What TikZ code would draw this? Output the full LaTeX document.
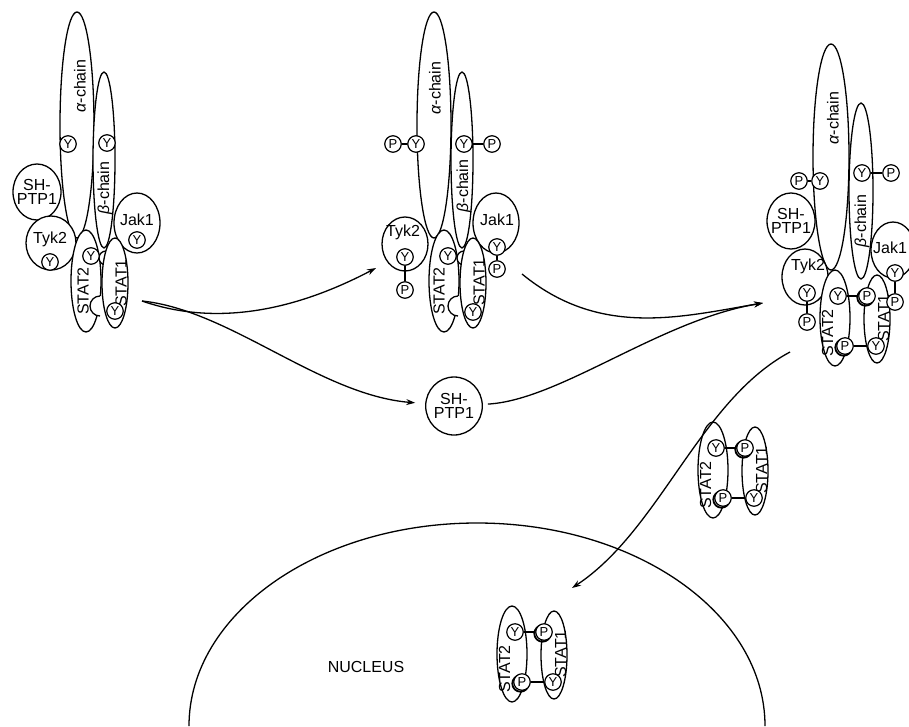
\documentclass[tikz,border=0pt]{standalone}
\usepackage{fontspec}
\setmainfont{Liberation Sans}
\usetikzlibrary{shapes.geometric,arrows.meta}

\begin{document}
\begin{tikzpicture}[x=1pt,y=-1pt,line width=1.3pt,
  blob/.style 2 args={ellipse,draw,fill=white,inner sep=0pt,minimum width=#1pt,minimum height=#2pt},
  lbl/.style={font=\fontsize{16}{14.5}\selectfont,align=center,inner sep=0pt},
  res/.style={circle,draw,fill=white,inner sep=0pt,minimum size=16.5pt,line width=1.2pt,font=\fontsize{13}{13}\selectfont},
  >={Stealth[length=9pt,width=6pt]}]
  \useasboundingbox (0,0) rectangle (909,726);

 % Rezeptor, Ruhezustand
 \node[blob={34}{226}] (ac1) at (77,125) {};
 \node[blob={22}{176}] (bc1) at (104,160) {};
 \node[blob={48}{56}] (sh1) at (37,192) {};
 \node[blob={50}{54}] (tyk1) at (51,243) {};
 \node[blob={46}{60}] (jak1) at (137,223) {};
 \node[blob={30}{102}] (st2a) at (86,281) {};
 \draw[fill=white] (106,258) circle (7);
 \fill[white] (100,306) circle (10);
 \draw (100,296) arc[start angle=270, end angle=90, radius=10];
 \node[blob={26}{90}] (st1a) at (115,283) {};
 \node[lbl,rotate=90] (acl1) at (80,86) {{\itshape α}-chain};
 \node[lbl,rotate=90] (bcl1) at (105,188) {{\itshape β}-chain};
 \node[lbl] (shl1) at (37,192) {SH-\\PTP1};
 \node[lbl] (tykl1) at (50,239) {Tyk2};
 \node[lbl] (jakl1) at (137,220) {Jak1};
 \node[lbl,rotate=90] (st2l1) at (83,291) {STAT2};
 \node[lbl,rotate=90] (st1l1) at (121,283) {STAT1};
 \node[res] (ya1) at (68,144) {Y};
 \node[res] (yb1) at (107,143) {Y};
 \node[res] (yt1) at (50,262) {Y};
 \node[res] (yj1) at (137,240) {Y};
 \node[res] (ys2a) at (91,256) {Y};
 \node[res] (ys1a) at (115,311) {Y};

 % Rezeptor, phosphoryliert
 \node[blob={34}{226}] (ac2) at (434,125) {};
 \node[blob={22}{176}] (bc2) at (462,160) {};
 \node[blob={46}{54}] (tyk2) at (405,244) {};
 \node[blob={46}{60}] (jak2) at (496,223) {};
 \node[blob={30}{102}] (st2b) at (444,281) {};
 \draw[fill=white] (464,258) circle (7);
 \fill[white] (458,306) circle (10);
 \draw (458,296) arc[start angle=270, end angle=90, radius=10];
 \node[blob={26}{90}] (st1b) at (473,283) {};
 \node[lbl,rotate=90] (acl2) at (435,88) {{\itshape α}-chain};
 \node[lbl,rotate=90] (bcl2) at (464,186) {{\itshape β}-chain};
 \node[lbl] (tykl2) at (403,232) {Tyk2};
 \node[lbl] (jakl2) at (497,220) {Jak1};
 \node[lbl,rotate=90] (st2l2) at (439,291) {STAT2};
 \node[lbl,rotate=90] (st1l2) at (479,282) {STAT1};
 \node[res] (ya2) at (416,144) {Y};
 \node[res] (pa2) at (393,144) {P};
 \node[res] (yb2) at (464,144) {Y};
 \node[res] (pb2) at (492,144) {P};
 \node[res] (yt2) at (405,257) {Y};
 \node[res] (pt2) at (405,290) {P};
 \node[res] (yj2) at (497,247) {Y};
 \node[res] (pj2) at (497,269) {P};
 \node[res] (ys2b) at (448,256) {Y};
 \node[res] (ys1b) at (473,312) {Y};
 \draw (pa2) -- (ya2);
 \draw (yb2) -- (pb2);
 \draw (yt2) -- (pt2);
 \draw (yj2) -- (pj2);

 % Rezeptor mit STAT-Dimer
 \node[blob={36}{226}] (ac3) at (831,157) {};
 \node[blob={24}{176}] (bc3) at (861,191) {};
 \node[blob={48}{56}] (sh3) at (791,221) {};
 \node[blob={46}{56}] (tyk3) at (805,277) {};
 \node[blob={44}{56}] (jak3) at (893,250) {};
 \node[lbl,rotate=90] (acl3) at (833,118) {{\itshape α}-chain};
 \node[lbl,rotate=90] (bcl3) at (862,221) {{\itshape β}-chain};
 \node[lbl] (shl3) at (791,221) {SH-\\PTP1};
 \node[lbl] (tykl3) at (808,266) {Tyk2};
 \node[lbl] (jakl3) at (890,248) {Jak1};

 % STAT-Dimere
 \foreach \n/\dx/\dy in {c/835/318, f/713/470, n/512/654} {
   \begin{scope}[shift={(\dx,\dy)}]
     \node[blob={30}{96}] (s2\n) at (0,0) {};
     \node[blob={26}{88}] (s1\n) at (42,1) {};
     \node[lbl,rotate=90] (l2\n) at (-7.5,15) {STAT2};
     \node[lbl,rotate=90] (l1\n) at (48.5,0) {STAT1};
     \draw[line width=1.8pt] (8.5,29.5) circle (8.2);
     \draw[line width=1.8pt] (30.5,-20.5) circle (8.2);
     \node[res] (y2\n) at (3,-22) {Y};
     \node[res] (p2\n) at (10,28) {P};
     \node[res] (p1\n) at (32,-22) {P};
     \node[res] (y1\n) at (41,28) {Y};
     \draw (y2\n) -- (p1\n);
     \draw (p2\n) -- (y1\n);
   \end{scope}
 }

 \node[res] (ya3) at (820,181) {Y};
 \node[res] (pa3) at (799,181) {P};
 \node[res] (yb3) at (862,173) {Y};
 \node[res] (pb3) at (891,173) {P};
 \node[res] (yt3) at (807,293) {Y};
 \node[res] (pt3) at (807,322) {P};
 \node[res] (yj3) at (895,273) {Y};
 \node[res] (pj3) at (895,302) {P};
 \draw (pa3) -- (ya3);
 \draw (yb3) -- (pb3);
 \draw (yt3) -- (pt3);
 \draw (yj3) -- (pj3);

 % freies SH-PTP1
 \node[blob={50}{58},lbl] (shf) at (454,406) {SH-\\PTP1};

 % Kern
 \draw (189,726) arc[start angle=180, end angle=360, x radius=288, y radius=203];
 \node[lbl] (nuc) at (366,667) {NUCLEUS};

 % Pfeile
 \coordinate (out1) at (142,301);
 \coordinate (in2) at (376,268);
 \coordinate (out2) at (522,274);
 \coordinate (in3) at (763,303);
 \coordinate (out3) at (790,352);
 \coordinate (in4) at (572,588);
 \draw[->] (out1) .. controls (220,328) and (300,308) .. (in2);
 \draw[->,shorten >=10pt] (out1) .. controls (230,310) and (320,395) .. (shf);
 \draw[->] (out2) .. controls (600,338) and (680,317) .. (in3);
 \draw[->,shorten <=5pt] (shf) .. controls (560,400) and (660,320) .. (in3);
 \draw[->] (out3) .. controls (700,400) and (660,530) .. (in4);
\end{tikzpicture}
\end{document}
